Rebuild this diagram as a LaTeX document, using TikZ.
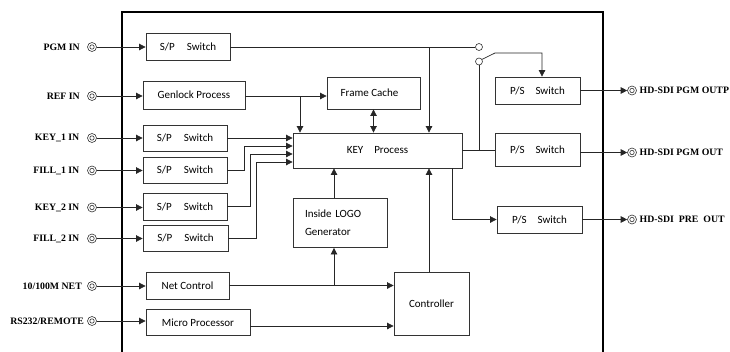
\documentclass[tikz,border=0pt]{standalone}
\usepackage{fontspec}
\setmainfont{Liberation Serif}
\newfontfamily\boxfont{Carlito}
\usetikzlibrary{arrows.meta,calc}
\begin{document}
\begin{tikzpicture}[x=1pt,y=-1pt,
  box/.style={draw=black!80, line width=0.8pt, inner sep=0pt, font=\boxfont\fontsize{11}{13}\selectfont},
  lbl/.style={font=\bfseries\fontsize{9.8}{11}\selectfont, inner sep=0pt},
  jack/.style={circle, draw=black!80, line width=0.6pt, minimum size=9pt, inner sep=0pt,
     path picture={\draw[black!80, line width=0.6pt] (path picture bounding box.center) circle (2.2pt);}},
  contact/.style={circle, draw=black!80, line width=0.6pt, minimum size=7pt, inner sep=0pt, fill=white},
  wire/.style={draw=black!85, line width=0.7pt},
  arr/.style={wire, -{Triangle[length=6.5pt,width=6.5pt]}},
  arrr/.style={wire, {Triangle[length=6.5pt,width=6.5pt]}-{Triangle[length=6.5pt,width=6.5pt]}},
  frame/.style={draw=black, line width=1.8pt}
]
\useasboundingbox (0,0) rectangle (730,351);

% main frame (open at the bottom)
\draw[frame] (122,352) -- (122,12) -- (603,12) -- (603,352);

% ---- left boxes
\node[box, minimum width=84pt, minimum height=27pt] (sp0) at (188,46.5) {S/P\hspace{1.1em}Switch};
\node[box, minimum width=102pt, minimum height=28pt] (gen) at (194,95) {Genlock Process};
\node[box, minimum width=84pt, minimum height=26pt] (sp1) at (185,138) {S/P\hspace{1.1em}Switch};
\node[box, minimum width=84pt, minimum height=26pt] (sp2) at (185,170) {S/P\hspace{1.1em}Switch};
\node[box, minimum width=84pt, minimum height=27pt] (sp3) at (185,206.5) {S/P\hspace{1.1em}Switch};
\node[box, minimum width=85pt, minimum height=26pt] (sp4) at (185.5,238) {S/P\hspace{1.1em}Switch};
\node[box, minimum width=83pt, minimum height=27pt] (net) at (187.5,285.5) {Net Control};
\node[box, minimum width=104pt, minimum height=26pt] (mic) at (198,322.5) {Micro Processor};

% ---- middle boxes
\node[box, minimum width=93pt, minimum height=32pt] (fc) at (373.5,93) {\hspace*{-8pt}Frame Cache};
\node[box, minimum width=169pt, minimum height=35pt] (key) at (377.5,150.5) {KEY\hspace{1em}Process};
\node[box, minimum width=94pt, minimum height=49pt, align=left, text width=70pt] (logo) at (340,223)
   {Inside LOGO\\[5pt]Generator};
\node[box, minimum width=75pt, minimum height=63pt] (ctrl) at (431.5,303.5) {Controller};

% ---- right boxes
\node[box, minimum width=85pt, minimum height=27pt] (ps1) at (537.5,90.5) {P/S\hspace{1em}Switch};
\node[box, minimum width=85pt, minimum height=33pt] (ps2) at (537.5,150) {P/S\hspace{1em}Switch};
\node[box, minimum width=85pt, minimum height=27pt] (ps3) at (539.5,219.5) {P/S\hspace{1em}Switch};

% ---- input jacks and labels
\node[jack] (jpgm) at (92,47) {};
\node[jack] (jref) at (92,96) {};
\node[jack] (jk1) at (92,138) {};
\node[jack] (jf1) at (92,170.5) {};
\node[jack] (jk2) at (92,207.5) {};
\node[jack] (jf2) at (92,238.5) {};
\node[jack] (jnet) at (92,286) {};
\node[jack] (jrs) at (92,321) {};

\node[lbl, anchor=east] (lpgm) at (80,47) {PGM IN};
\node[lbl, anchor=east] (lref) at (80,96) {REF IN};
\node[lbl, anchor=east] (lk1) at (79.5,138) {KEY\_1 IN};
\node[lbl, anchor=east] (lf1) at (79.5,170.5) {FILL\_1 IN};
\node[lbl, anchor=east] (lk2) at (79.5,207.5) {KEY\_2 IN};
\node[lbl, anchor=east] (lf2) at (79.5,238.5) {FILL\_2 IN};
\node[lbl, anchor=east] (lnet) at (82,286) {10/100M NET};
\node[lbl, anchor=east] (lrs) at (84,321) {RS232/REMOTE};

\draw[arr] (jpgm.east) -- (jpgm -| sp0.west);
\draw[arr] (jref.east) -- (jref -| gen.west);
\draw[arr] (jk1.east) -- (jk1 -| sp1.west);
\draw[arr] (jf1.east) -- (jf1 -| sp2.west);
\draw[arr] (jk2.east) -- (jk2 -| sp3.west);
\draw[arr] (jf2.east) -- (jf2 -| sp4.west);
\draw[arr] (jnet.east) -- (jnet -| net.west);
\draw[arr] (jrs.east) -- (jrs -| mic.west);

% ---- output jacks and labels
\node[jack] (jo1) at (632,90.5) {};
\node[jack] (jo2) at (632,152.5) {};
\node[jack] (jo3) at (632,219.5) {};
\node[lbl, anchor=west] (lo1) at (639.5,90.5) {HD-SDI PGM OUTP};
\node[lbl, anchor=west] (lo2) at (639.5,152.5) {HD-SDI PGM OUT};
\node[lbl, anchor=west] (lo3) at (639.5,219.5) {HD-SDI\ \ PRE\ \ OUT};

\draw[arr] (ps1.east) -- (ps1.east -| jo1.west);
\draw[arr] (ps2.east |- jo2) -- (jo2.west);
\draw[arr] (ps3.east) -- (jo3.west);

% ---- S/P switches into KEY process
\draw[arr] (sp1.east) -- (sp1.east -| key.west);
\draw[arr] (sp2.east) -- ++(17,0) |- ([yshift=4.5pt]key.west);
\draw[arr] (sp3.east) -- ++(23,0) |- ([yshift=-3.5pt]key.west);
\draw[arr] (sp4.east) -- ++(28,0) |- ([yshift=-11.5pt]key.west);

% ---- genlock, frame cache
\coordinate (bg) at (300,96);
\draw[arr] (gen.east |- bg) -- (bg -| fc.west);
\draw[arr] (bg) -- (bg |- key.north);
\draw[arrr] (fc.south) -- (fc.south |- key.north);

% ---- PGM path and switch
\node[contact] (c1) at (479,47) {};
\node[contact] (c2) at (479,61.5) {};
\coordinate (bp) at (429,47);
\coordinate (sw) at (495,53);
\draw[wire] (sp0.east |- bp) -- (c1.west);
\draw[arr] (bp) -- (bp |- key.north);
\draw[arr] (c2.35) -- (sw) -| ([xshift=4.5pt]ps1.north);
\draw[wire] (c2.south) -- (c2.south |- ps2.west);
\draw[wire] (key.east |- ps2.west) -- (ps2.west);

% ---- KEY to preview output
\draw[arr] ([xshift=74.5pt]key.south) |- (ps3.west);

% ---- logo, controller
\draw[arr] ([xshift=-6pt]logo.north) -- ([xshift=-6pt]logo.north |- key.south);
\draw[arr] ([xshift=-2.5pt]ctrl.north) -- ([xshift=-2.5pt]ctrl.north |- key.south);
\coordinate (bn) at (334,285.5);
\draw[arr] (net.east) -- (net.east -| ctrl.west);
\draw[arr] (bn) -- (bn |- logo.south);
\draw[arr] ([yshift=-3.5pt]mic.east) -- ([yshift=-3.5pt]mic.east -| ctrl.west);
\end{tikzpicture}
\end{document}
